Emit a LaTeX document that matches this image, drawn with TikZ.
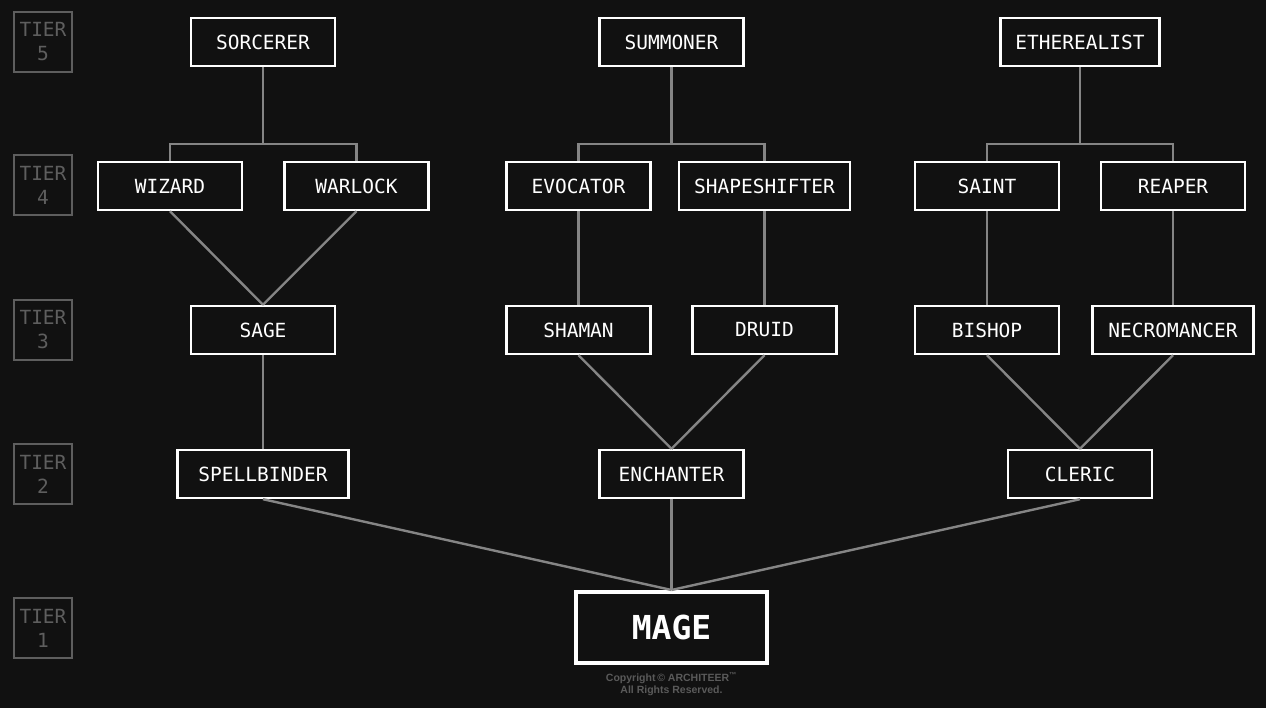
\documentclass[tikz,border=0pt]{standalone}
\usepackage{fontspec}
\setmonofont{DejaVu Sans Mono}
\newfontfamily\copyfont{Liberation Sans}
\definecolor{bg}{HTML}{111111}
\definecolor{linegray}{HTML}{858585}
\definecolor{tiergray}{HTML}{5E5E5E}
\definecolor{copygray}{HTML}{5A5A5A}
\begin{document}
\begin{tikzpicture}[x=1pt,y=-1pt,
  cls/.style={draw=white, line width=2.4pt, fill=bg, text=white, minimum height=48pt, minimum width=144pt, inner sep=0pt,
    font=\ttfamily\fontsize{19.5}{22}\selectfont},
  wide/.style={minimum width=#1},
  tierbox/.style={draw=tiergray, line width=2.4pt, text=tiergray, minimum width=58pt, minimum height=60pt, inner sep=0pt, align=center,
    font=\ttfamily\fontsize{19.5}{24}\selectfont},
  link/.style={draw=linegray, line width=2.4pt}]
\fill[bg] (0,0) rectangle (1266,708);
\useasboundingbox (0,0) rectangle (1266,708);
% tier labels
\node[tierbox] (t5) at (43,42) {TIER\\5};
\node[tierbox] (t4) at (43,185) {TIER\\4};
\node[tierbox] (t3) at (43,330) {TIER\\3};
\node[tierbox] (t2) at (43,474) {TIER\\2};
\node[tierbox] (t1) at (43,628) {TIER\\1};
% junctions
\coordinate (j1) at (263,144);
\coordinate (j2) at (671.5,144);
\coordinate (j3) at (1080,144);
% nodes
\node[cls] (sorc) at (263,42) {SORCERER};
\node[cls] (summ) at (671.5,42) {SUMMONER};
\node[cls,wide=159pt] (ethe) at (1080,42) {ETHEREALIST};
\node[cls] (wiz) at (170,186) {WIZARD};
\node[cls] (war) at (356.5,186) {WARLOCK};
\node[cls] (evo) at (578.5,186) {EVOCATOR};
\node[cls,wide=171pt] (shape) at (764.5,186) {SHAPESHIFTER};
\node[cls] (saint) at (987,186) {SAINT};
\node[cls] (reap) at (1173,186) {REAPER};
\node[cls] (sage) at (263,330) {SAGE};
\node[cls] (sham) at (578.5,330) {SHAMAN};
\node[cls] (druid) at (764.5,330) {DRUID};
\node[cls] (bish) at (987,330) {BISHOP};
\node[cls,wide=161pt] (necro) at (1173,330) {NECROMANCER};
\node[cls,wide=171pt] (spell) at (263,474) {SPELLBINDER};
\node[cls] (ench) at (671.5,474) {ENCHANTER};
\node[cls] (cler) at (1080,474) {CLERIC};
\node[cls, line width=4pt, minimum width=191pt, minimum height=71pt, font=\ttfamily\bfseries\fontsize{33}{38}\selectfont] (mage) at (671.5,627.5) {MAGE};
% connectors
\draw[link] (sorc.south) -- (j1);
\draw[link] (wiz.north) |- (j1) -| (war.north);
\draw[link] (summ.south) -- (j2);
\draw[link] (evo.north) |- (j2) -| (shape.north);
\draw[link] (ethe.south) -- (j3);
\draw[link] (saint.north) |- (j3) -| (reap.north);
\draw[link] (wiz.south) -- (sage.north);
\draw[link] (war.south) -- (sage.north);
\draw[link] (evo.south) -- (sham.north);
\draw[link] (shape.south) -- (druid.north);
\draw[link] (saint.south) -- (bish.north);
\draw[link] (reap.south) -- (necro.north);
\draw[link] (sage.south) -- (spell.north);
\draw[link] (sham.south) -- (ench.north);
\draw[link] (druid.south) -- (ench.north);
\draw[link] (bish.south) -- (cler.north);
\draw[link] (necro.south) -- (cler.north);
\draw[link] (spell.south) -- (mage.north);
\draw[link] (ench.south) -- (mage.north);
\draw[link] (cler.south) -- (mage.north);
% copyright
\node[text=copygray, font=\copyfont\bfseries\fontsize{10.5}{12.5}\selectfont, align=center, inner sep=0pt] (copy) at (671.5,684) {Copyright\,\textcopyright\ ARCHITEER\textsuperscript{\texttrademark}\\All Rights Reserved.};
\end{tikzpicture}
\end{document}
